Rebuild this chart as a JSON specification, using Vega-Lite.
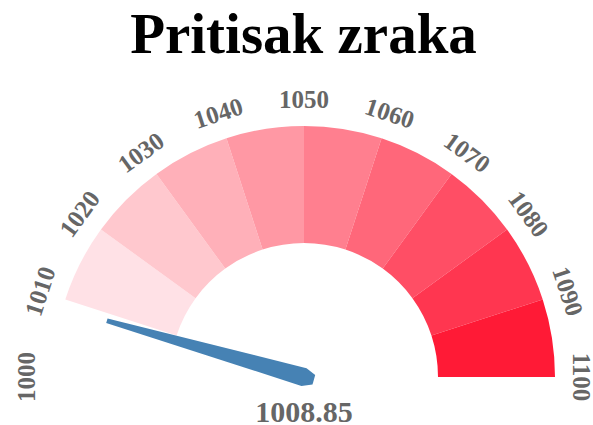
{
  "$schema": "https://vega.github.io/schema/vega-lite/v6.json",
  "autosize": "none",
  "padding": {"left": 0, "top": 60, "right": 0, "bottom": 0},
  "width": 593,
  "height": 365,
  "title": {"text": "Pritisak zraka", "font": "Liberation Serif", "fontSize": 57, "fontWeight": "bold", "color": "#000000", "anchor": "middle", "dx": 7, "dy": 9},
  "config": {"view": {"stroke": null}},
  "datasets": {
    "segments": [
      {"start": 1010, "end": 1020},
      {"start": 1020, "end": 1030},
      {"start": 1030, "end": 1040},
      {"start": 1040, "end": 1050},
      {"start": 1050, "end": 1060},
      {"start": 1060, "end": 1070},
      {"start": 1070, "end": 1080},
      {"start": 1080, "end": 1090},
      {"start": 1090, "end": 1100}
    ],
    "ticks": [
      {"v": 1000}, {"v": 1010}, {"v": 1020}, {"v": 1030}, {"v": 1040}, {"v": 1050},
      {"v": 1060}, {"v": 1070}, {"v": 1080}, {"v": 1090}, {"v": 1100}
    ],
    "reading": [{"value": 1008.85}]
  },
  "encoding": {
    "x": {"datum": 0, "type": "quantitative", "scale": {"domain": [-1.2112, 1.1514]}, "axis": null},
    "y": {"datum": 0, "type": "quantitative", "scale": {"domain": [-0.1912, 1.2629]}, "axis": null}
  },
  "layer": [
    {
      "data": {"name": "segments"},
      "mark": {"type": "arc", "radius": 251, "radius2": 134},
      "encoding": {
        "theta": {"field": "start", "type": "quantitative", "stack": null, "scale": {"domain": [1000, 1100], "range": [-1.5708, 1.5708]}},
        "theta2": {"field": "end"},
        "color": {"field": "start", "type": "ordinal", "legend": null,
          "scale": {"domain": [1010, 1020, 1030, 1040, 1050, 1060, 1070, 1080, 1090],
                    "range": ["#ffe1e6", "#ffc8ce", "#ffb0b9", "#ff98a4", "#ff7f8f", "#ff677a", "#ff4e65", "#ff3650", "#ff1a36"]}}
      }
    },
    {
      "data": {"name": "ticks"},
      "mark": {"type": "text", "radius": 277, "align": "center", "baseline": "middle", "font": "Liberation Serif", "fontWeight": "bold", "fontSize": 25, "color": "#666666"},
      "encoding": {
        "theta": {"field": "v", "type": "quantitative"},
        "angle": {"field": "v", "type": "quantitative", "scale": {"domain": [1000, 1100], "range": [-90, 90]}},
        "text": {"field": "v", "type": "quantitative", "format": "d"}
      }
    },
    {
      "data": {"name": "reading"},
      "mark": {"type": "point", "filled": true, "opacity": 1, "color": "#4682b4", "size": 168100,
               "shape": "M -0.012 -1 L 0.012 -1 L 0.045 0 L 0.024 0.05 L -0.024 0.05 L -0.045 0 Z"},
      "encoding": {
        "angle": {"field": "value", "type": "quantitative"}
      }
    },
    {
      "data": {"name": "reading"},
      "mark": {"type": "text", "align": "center", "baseline": "alphabetic", "dy": 45, "font": "Liberation Serif", "fontWeight": "bold", "fontSize": 30, "color": "#666666"},
      "encoding": {
        "text": {"field": "value", "type": "quantitative", "format": ".2f"}
      }
    }
  ]
}
